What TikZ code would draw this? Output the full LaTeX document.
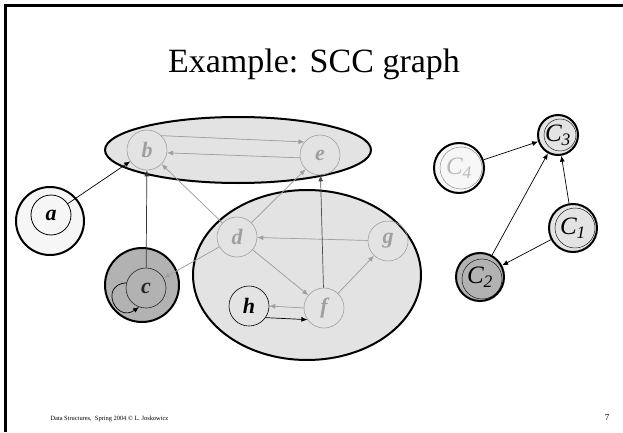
\documentclass[tikz,border=0pt]{standalone}
\usepackage{fontspec}
\setmainfont{Liberation Serif}
\usetikzlibrary{arrows.meta}

\tikzset{
  vtx/.style={circle, draw=gray!75, line width=0.6pt, minimum size=40pt, inner sep=0pt,
    text=gray!75, font=\fontsize{22}{22}\selectfont\bfseries\itshape},
  bvtx/.style={vtx, draw=black, text=black},
  ring/.style={circle, draw=black, line width=2pt, inner sep=0pt},
  comp/.style={circle, draw=black, line width=2pt, inner sep=0pt, fill=gray!22,
    font=\fontsize{25}{25}\selectfont\itshape},
  blob/.style={draw=black, line width=2pt, fill=gray!22},
  arc/.style={-{Latex[length=6pt,width=5pt]}, line width=0.7pt},
  garc/.style={arc, draw=gray!75, fill=gray!75},
}

\begin{document}
\begin{tikzpicture}[x=1pt, y=1pt]
    \useasboundingbox (0,0) rectangle (623,432);
    % slide frame
    \draw[line width=3pt] (5,0) -- (5,426) -- (623,426);
    \node[font=\fontsize{34}{38}\selectfont] (title) at (314,368) {Example: SCC graph};

    % components
    \draw[blob] (238,282) ellipse [x radius=133pt, y radius=33pt];
    \draw[blob] (307,157) ellipse [x radius=114pt, y radius=85pt];
    \node[ring, fill=gray!7, minimum size=68pt] (aring) at (50,211) {};
    \node[ring, fill=gray!60, minimum size=74pt] (cring) at (142,147) {};

    % vertices
    \node[vtx] (b) at (147,282) {b};
    \node[vtx] (e) at (320,277) {e};
    \node[bvtx, line width=0.8pt] (a) at (51,217) {a};
    \node[vtx, draw=black!85, text=black!85] (c) at (146,144) {c};
    \node[vtx] (d) at (237,195) {d};
    \node[vtx] (g) at (388,191) {g};
    \node[vtx] (f) at (324,124) {f};
    \node[bvtx] (h) at (249,126) {h};

    % edges
    \draw[arc] (a) -- (b);
    \draw[arc, draw=black!80] (c) -- (b);
    \draw[arc] (c.165) to[out=185, in=215, looseness=2.6] (c.250);
    \draw[garc] (b.45) -- (e.140);
    \draw[garc] (e.188) -- (b.-8);
    \draw[garc] (d) -- (b);
    \draw[garc] (d) -- (e);
    \draw[garc] (d) -- (c);
    \draw[garc] (g) -- (d);
    \draw[garc] (d) -- (f);
    \draw[garc] (f) -- (g);
    \draw[arc, draw=black!70] (f) -- (e);
    \draw[garc] (f.west) -- (h.east);
    \draw[arc] (h.-35) -- (f.-145);

    % component graph
    \node[comp, minimum size=40pt] (C3) at (558,297) {C\textsubscript{3}};
    \node[comp, minimum size=50pt, fill=gray!6, text=gray!55] (C4) at (459,264) {C\textsubscript{4}};
    \node[comp, minimum size=48pt] (C1) at (573,204) {C\textsubscript{1}};
    \node[comp, minimum size=48pt, fill=gray!60] (C2) at (480,155) {C\textsubscript{2}};
    \draw[line width=0.4pt] (560,297) circle [radius=16pt];
    \draw[line width=0.4pt, gray] (461,264) circle [radius=21pt];
    \draw[line width=0.4pt] (575,204) circle [radius=20pt];
    \draw[line width=0.4pt] (482,153) circle [radius=20pt];
    \draw[arc] (C4) -- (C3);
    \draw[arc] (C2) -- (C3);
    \draw[arc] (C1) -- (C3);
    \draw[arc] (C1) -- (C2);

    % footer
    \node[anchor=base west, font=\fontsize{6.4}{8}\selectfont] (foot) at (47,12) {Data Structures,\ \ Spring 2004 © L. Joskowicz};
    \node[anchor=base, font=\fontsize{9}{10}\selectfont] (page) at (607,12) {7};
\end{tikzpicture}
\end{document}
